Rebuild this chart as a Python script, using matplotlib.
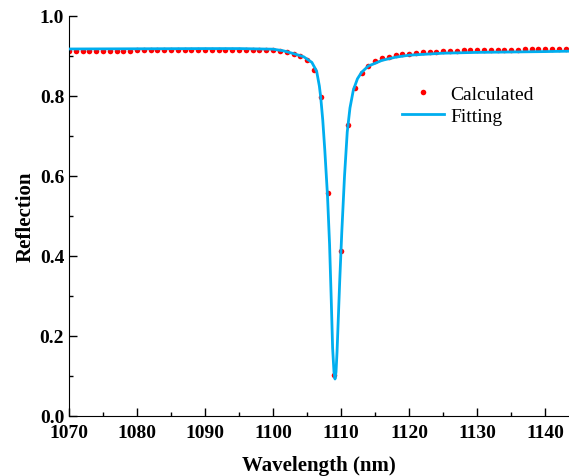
import numpy as np
import matplotlib
matplotlib.use("Agg")
import matplotlib.pyplot as plt
from matplotlib.ticker import MultipleLocator

# calculated reflection, one point per nm
calc_wl = np.arange(1070, 1144)
calc_r = [0.912, 0.912, 0.912, 0.912, 0.913, 0.913, 0.913, 0.913, 0.913, 0.913,
          0.914, 0.914, 0.914, 0.914, 0.914, 0.915, 0.915, 0.915, 0.915, 0.915,
          0.915, 0.915, 0.915, 0.916, 0.916, 0.916, 0.916, 0.916, 0.915, 0.915,
          0.915, 0.912, 0.909, 0.905, 0.899, 0.889, 0.865, 0.797, 0.557, 0.103,
          0.413, 0.727, 0.820, 0.857, 0.876, 0.888, 0.894, 0.898, 0.902, 0.904,
          0.906, 0.907, 0.909, 0.910, 0.911, 0.912, 0.913, 0.913, 0.914, 0.914,
          0.915, 0.915, 0.915, 0.916, 0.916, 0.916, 0.916, 0.917, 0.917, 0.917,
          0.917, 0.917, 0.917, 0.917]

# fitted curve
fit_wl = [1070, 1080, 1090, 1095, 1100, 1101.5, 1103, 1104.5, 1105.7, 1106.4,
          1106.8, 1107.0, 1107.3, 1107.6, 1108.0, 1108.3, 1108.55, 1108.75, 1108.95,
          1109.1, 1109.25, 1109.4, 1109.6, 1109.8, 1110.1, 1110.5, 1110.9,
          1111.3, 1111.8, 1112.4, 1113.0, 1114.0, 1114.75, 1116, 1118, 1120,
          1125, 1130, 1135, 1140, 1143.5]
fit_r = [0.9175, 0.918, 0.9185, 0.9185, 0.917, 0.913, 0.906, 0.898, 0.884, 0.862,
         0.825, 0.797, 0.74, 0.665, 0.55, 0.43, 0.29, 0.17, 0.11,
         0.0925, 0.11, 0.16, 0.25, 0.34, 0.46, 0.60, 0.71,
         0.77, 0.815, 0.843, 0.859, 0.875, 0.88, 0.889, 0.897, 0.902,
         0.907, 0.909, 0.910, 0.911, 0.912]

plt.rcParams['font.family'] = ['Liberation Serif', 'DejaVu Serif']

fig = plt.figure(figsize=(5.69, 4.77), dpi=100)
ax = fig.add_axes([0.1213, 0.1258, 0.8787, 0.8386])

ax.plot(calc_wl, calc_r, 'o', color='#ff0000', ms=4, mew=0, label='Calculated', zorder=2)
ax.plot(fit_wl, fit_r, '-', color='#00aeef', lw=2.0, label='Fitting', zorder=3)

ax.set_xlim(1070, 1143.5)
ax.set_ylim(0, 1.0)
ax.xaxis.set_major_locator(MultipleLocator(10))
ax.xaxis.set_minor_locator(MultipleLocator(5))
ax.yaxis.set_major_locator(MultipleLocator(0.2))
ax.yaxis.set_minor_locator(MultipleLocator(0.1))
ax.tick_params(which='both', direction='in', width=1)
ax.tick_params(which='major', length=5.5, labelsize=14)
ax.tick_params(which='minor', length=3)
ax.tick_params(axis='x', which='major', pad=6)
for lab in ax.get_xticklabels() + ax.get_yticklabels():
    lab.set_fontweight('bold')
ax.yaxis.set_major_formatter(plt.FormatStrFormatter('%.1f'))

ax.spines['top'].set_visible(False)
ax.spines['right'].set_visible(False)

ax.set_xlabel('Wavelength (nm)', fontsize=15, fontweight='bold', labelpad=10)
ax.set_ylabel('Reflection', fontsize=15, fontweight='bold', labelpad=3)

ax.legend(loc='upper left', bbox_to_anchor=(0.63, 0.87), frameon=False,
          fontsize=14, handlelength=2.2, handletextpad=0.3, labelspacing=0.2)

fig.savefig('out.png', dpi=100)
